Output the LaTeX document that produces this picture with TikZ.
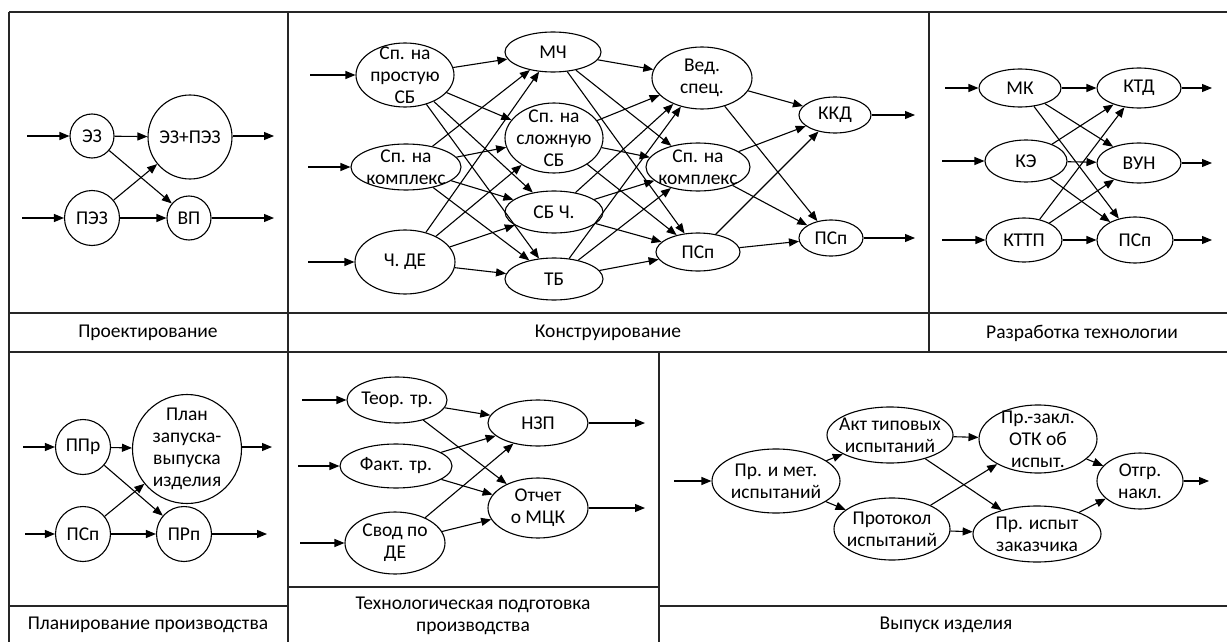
\documentclass[tikz,border=0pt]{standalone}
\usepackage{fontspec}
\setmainfont{Carlito}
\usetikzlibrary{shapes.geometric,arrows.meta}

\tikzset{
  frame/.style={line width=1.4pt, draw=black!85},
  oval/.style={ellipse, draw, line width=1.1pt, inner sep=0pt, fill=white},
  circ/.style={circle, draw, line width=1.1pt, inner sep=0pt, fill=white},
  txt/.style={align=center, inner sep=0pt, font=\fontsize{19.5}{22}\selectfont},
  caption/.style={align=center, inner sep=0pt, font=\fontsize{19.5}{22}\selectfont},
  flow/.style={line width=1.1pt, -{Triangle[length=10pt,width=8pt]}}
}

% oval node: name, x, y, width, height, text
\newcommand\ovalnode[6]{%
  \node[oval, minimum width=#4pt, minimum height=#5pt] (#1) at (#2,#3) {};
  \node[txt] (#1t) at (#1) {#6};}
% round node: name, x, y, diameter, text
\newcommand\roundnode[5]{%
  \node[circ, minimum size=#4pt] (#1) at (#2,#3) {};
  \node[txt] (#1t) at (#1) {#5};}

\begin{document}
\begin{tikzpicture}[x=1pt, y=-1pt]
\useasboundingbox (0,0) rectangle (1227,642);

% ---------- panel frames ----------
\draw[frame] (9,12) -- (1227,12);
\draw[frame] (9,12) -- (9,642);
\draw[frame] (288,12) -- (288,642);
\draw[frame] (929,12) -- (929,352);
\draw[frame] (9,313) -- (1227,313);
\draw[frame] (9,352) -- (1227,352);
\draw[frame] (659,352) -- (659,642);
\draw[frame] (9,606) -- (288,606);
\draw[frame] (288,587) -- (659,587);
\draw[frame] (659,606) -- (1227,606);

% ---------- captions ----------
\node[caption] (c1) at (148,333) {Проектирование};
\node[caption] (c2) at (608,333) {Конструирование};
\node[caption] (c3) at (1082,333) {Разработка технологии};
\node[caption] (c4) at (148,625) {Планирование производства};
\node[caption] (c5) at (473,616) {Технологическая подготовка\\производства};
\node[caption] (c6) at (946,625) {Выпуск изделия};

% ---------- Проектирование ----------
\roundnode{ez}{92}{136}{44}{ЭЗ}
\roundnode{ezpez}{190}{137}{84}{ЭЗ+ПЭЗ}
\roundnode{pez}{92}{218}{55}{ПЭЗ}
\roundnode{vp}{189}{218}{44}{ВП}
\coordinate (ezin) at (27,136);
\coordinate (pezin) at (22,218);
\coordinate (ezpezout) at (274,136);
\coordinate (vpout) at (274,218);
\draw[flow] (ezin) -- (ez);
\draw[flow] (pezin) -- (pez);
\draw[flow] (ez) -- (ezpez);
\draw[flow] (ez) -- (vp);
\draw[flow] (pez) -- (ezpez);
\draw[flow] (pez) -- (vp);
\draw[flow] (ezpez.east |- ezpezout) -- (ezpezout);
\draw[flow] (vp) -- (vpout);

% ---------- Конструирование ----------
\ovalnode{k1}{405}{75}{98}{64}{Сп. на\\простую\\СБ}
\ovalnode{k2}{406}{167}{110}{46}{Сп. на\\комплекс}
\ovalnode{k3}{405}{262}{100}{64}{Ч. ДЕ}
\ovalnode{m1}{553}{52}{96}{40}{МЧ}
\ovalnode{m2}{554}{138}{98}{70}{Сп. на\\сложную\\СБ}
\ovalnode{m3}{554}{212}{98}{42}{СБ Ч.}
\ovalnode{m4}{554}{279}{98}{42}{ТБ}
\ovalnode{r1}{702}{78}{100}{62}{Вед.\\спец.}
\ovalnode{r2}{698}{167}{104}{48}{Сп. на\\комплекс}
\ovalnode{r3}{698}{252}{84}{38}{ПСп}
\ovalnode{o1}{835}{115}{72}{36}{ККД}
\ovalnode{o2}{831}{238}{64}{36}{ПСп}
\coordinate (k1in) at (310,75);
\coordinate (k2in) at (308,167);
\coordinate (k3in) at (308,262);
\coordinate (o1out) at (915,115);
\coordinate (o2out) at (915,238);
\draw[flow] (k1in) -- (k1);
\draw[flow] (k2in) -- (k2);
\draw[flow] (k3in) -- (k3);
\foreach \a in {k1,k2,k3}
  \foreach \b in {m1,m2,m3,m4}
    \draw[flow] (\a) -- (\b);
\foreach \a in {m1,m2,m3,m4}
  \foreach \b in {r1,r2,r3}
    \draw[flow] (\a) -- (\b);
\foreach \a in {r1,r2,r3}
  \foreach \b in {o1,o2}
    \draw[flow] (\a) -- (\b);
\draw[flow] (o1) -- (o1out);
\draw[flow] (o2) -- (o2out);

% ---------- Разработка технологии ----------
\ovalnode{t1}{1020}{88}{82}{38}{МК}
\ovalnode{t2}{1026}{161}{82}{42}{КЭ}
\ovalnode{t3}{1024}{240}{76}{44}{КТТП}
\ovalnode{u1}{1139}{88}{84}{40}{КТД}
\ovalnode{u2}{1139}{163}{84}{40}{ВУН}
\ovalnode{u3}{1135}{240}{76}{46}{ПСп}
\coordinate (t1in) at (945,88);
\coordinate (t2in) at (942,161);
\coordinate (t3in) at (942,240);
\coordinate (u1out) at (1212,88);
\coordinate (u2out) at (1212,163);
\coordinate (u3out) at (1212,240);
\draw[flow] (t1in) -- (t1);
\draw[flow] (t2in) -- (t2);
\draw[flow] (t3in) -- (t3);
\foreach \a in {t1,t2,t3}
  \foreach \b in {u1,u2,u3}
    \draw[flow] (\a) -- (\b);
\draw[flow] (u1) -- (u1out);
\draw[flow] (u2) -- (u2out);
\draw[flow] (u3) -- (u3out);

% ---------- Планирование производства ----------
\roundnode{p1}{83}{447}{55}{ППр}
\roundnode{p2}{83}{534}{55}{ПСп}
\roundnode{p3}{187}{449}{109}{План\\запуска-\\выпуска\\изделия}
\roundnode{p4}{184}{534}{55}{ПРп}
\coordinate (p1in) at (23,447);
\coordinate (p2in) at (25,534);
\coordinate (p3out) at (272,447);
\coordinate (p4out) at (267,534);
\draw[flow] (p1in) -- (p1);
\draw[flow] (p2in) -- (p2);
\draw[flow] (p1) -- (p3);
\draw[flow] (p1) -- (p4);
\draw[flow] (p2) -- (p3);
\draw[flow] (p2) -- (p4);
\draw[flow] (p3.east |- p3out) -- (p3out);
\draw[flow] (p4) -- (p4out);

% ---------- Технологическая подготовка производства ----------
\ovalnode{s1}{397}{400}{100}{46}{Теор. тр.}
\ovalnode{s2}{396}{466}{112}{44}{Факт. тр.}
\ovalnode{s3}{395}{543}{100}{62}{Свод по\\ДЕ}
\ovalnode{e1}{538}{423}{100}{46}{НЗП}
\ovalnode{e2}{538}{508}{100}{60}{Отчет\\о МЦК}
\coordinate (s1in) at (302,400);
\coordinate (s2in) at (298,466);
\coordinate (s3in) at (300,543);
\coordinate (e1out) at (645,423);
\coordinate (e2out) at (645,508);
\draw[flow] (s1in) -- (s1);
\draw[flow] (s2in) -- (s2);
\draw[flow] (s3in) -- (s3);
\foreach \a in {s1,s2,s3}
  \foreach \b in {e1,e2}
    \draw[flow] (\a) -- (\b);
\draw[flow] (e1) -- (e1out);
\draw[flow] (e2) -- (e2out);

% ---------- Выпуск изделия ----------
\ovalnode{v1}{776}{481}{128}{64}{Пр. и мет.\\испытаний}
\ovalnode{v2}{890}{435}{126}{56}{Акт типовых\\испытаний}
\ovalnode{v3}{892}{529}{116}{62}{Протокол\\испытаний}
\ovalnode{v4}{1038}{439}{118}{68}{Пр.-закл.\\ОТК об\\испыт.}
\ovalnode{v5}{1037}{534}{128}{56}{Пр. испыт\\заказчика}
\ovalnode{v6}{1140}{481}{86}{56}{Отгр.\\накл.}
\coordinate (v1in) at (674,481);
\coordinate (v6out) at (1209,481);
\draw[flow] (v1in) -- (v1);
\draw[flow] (v1) -- (v2);
\draw[flow] (v1) -- (v3);
\draw[flow] (v2) -- (v4);
\draw[flow] (v2) -- (v5);
\draw[flow] (v3) -- (v4);
\draw[flow] (v3) -- (v5);
\draw[flow] (v4) -- (v6);
\draw[flow] (v5) -- (v6);
\draw[flow] (v6) -- (v6out);

\end{tikzpicture}
\end{document}
